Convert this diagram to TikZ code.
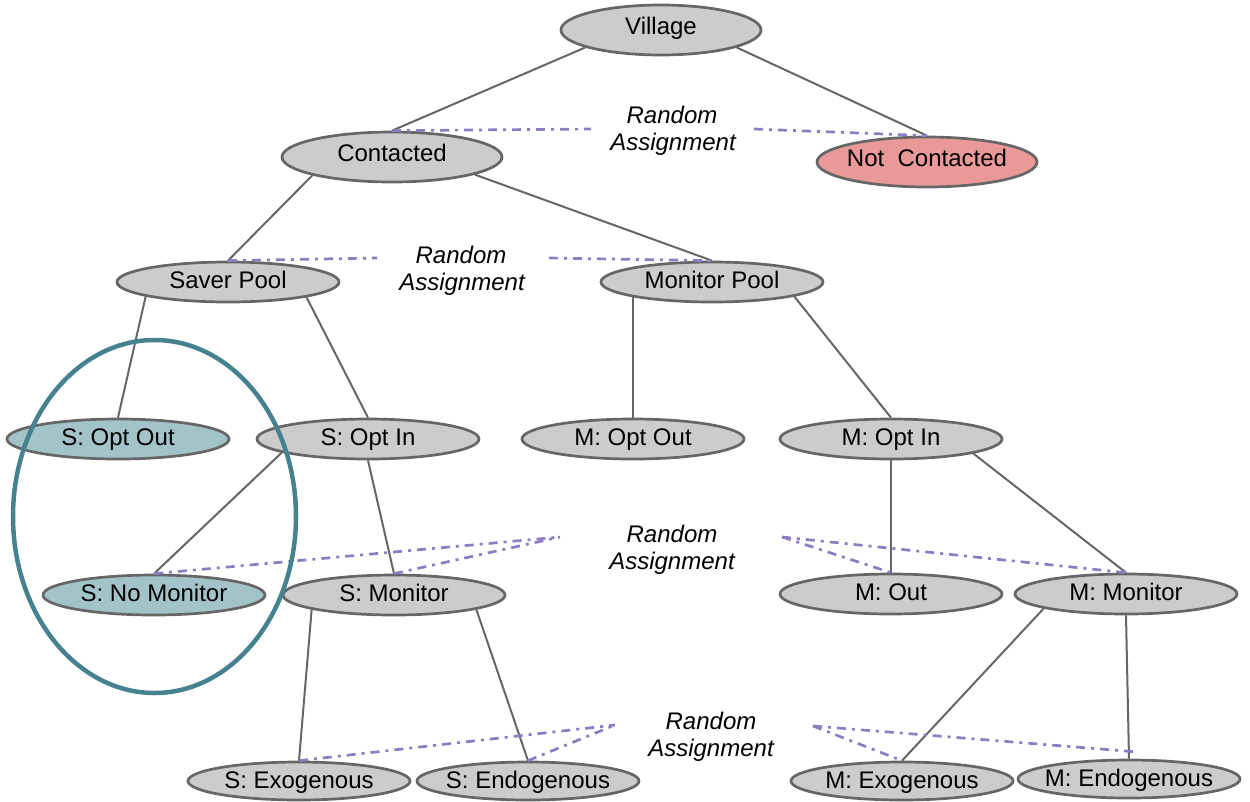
\documentclass[tikz,border=0pt]{standalone}
\usepackage{fontspec}
\setmainfont{Liberation Sans}
\usetikzlibrary{shapes.geometric}
\definecolor{nodegray}{HTML}{CCCCCC}
\definecolor{edgegray}{HTML}{666666}
\definecolor{tealfill}{HTML}{A2C4C9}
\definecolor{tealline}{HTML}{45818E}
\definecolor{redfill}{HTML}{EA9999}
\definecolor{purp}{HTML}{8E7CC3}
\begin{document}
\begin{tikzpicture}[x=1pt,y=-1pt,
  box/.style={ellipse, draw=edgegray, line width=2.7pt, fill=nodegray,
    minimum width=222pt, minimum height=40pt, inner xsep=-20pt, inner ysep=0pt,
    text height=17.2pt, text depth=4pt, font=\fontsize{24}{27}\selectfont},
  topbox/.style={box, minimum height=50pt, text depth=8pt},
  lowbox/.style={box, minimum height=38pt, text depth=3pt},
  conn/.style={draw=edgegray, line width=2pt},
  rand/.style={draw=purp, line width=2.7pt, dash pattern=on 9pt off 6pt on 3pt off 6pt},
  lab/.style={font=\fontsize{24}{27}\selectfont\itshape, anchor=base, inner sep=0pt},
  groupring/.style={draw=tealline, line width=4.5pt, ellipse, inner sep=0pt}]
\useasboundingbox (0,0) rectangle (1250,801);

% nodes
\node[topbox, minimum width=200pt] (village) at (661,30) {Village};
\node[topbox, minimum width=220pt] (contacted) at (392,157) {Contacted};
\node[topbox, fill=redfill, minimum width=220pt] (notc) at (927,162) {Not\ \ Contacted};
\node[box] (saver) at (228,282) {Saver Pool};
\node[box] (monpool) at (712,282) {Monitor Pool};
\node[box, fill=tealfill] (soptout) at (118,439) {S: Opt Out};
\node[box] (soptin) at (368,439) {S: Opt In};
\node[box] (moptout) at (633,439) {M: Opt Out};
\node[box] (moptin) at (891,439) {M: Opt In};
\node[box, fill=tealfill] (snomon) at (154,595) {S: No Monitor};
\node[box] (smon) at (394,595) {S: Monitor};
\node[box] (mout) at (891,594) {M: Out};
\node[box] (mmon) at (1126,594) {M: Monitor};
\node[lowbox] (sexo) at (299,781) {S: Exogenous};
\node[lowbox] (sendo) at (528,781) {S: Endogenous};
\node[lowbox] (mexo) at (902,781) {M: Exogenous};
\node[lowbox] (mendo) at (1129,779) {M: Endogenous};

% tree connectors
\draw[conn] (village.193) -- (contacted.north);
\draw[conn] (village.347) -- (notc.north);
\draw[conn] (contacted.193) -- (saver.north);
\draw[conn] (contacted.348) -- (monpool.north);
\draw[conn] (saver.190) -- (soptout.north);
\draw[conn] (saver.349) -- (soptin.north);
\draw[conn] (monpool.191 -| moptout.north) -- (moptout.north);
\draw[conn] (monpool.350) -- (moptin.north);
\draw[conn] (soptin.189) -- (snomon.north);
\draw[conn] (soptin.south) -- (smon.north);
\draw[conn] (moptin.south) -- (mout.north);
\draw[conn] (moptin.350) -- (mmon.north);
\draw[conn] (smon.190) -- (sexo.north);
\draw[conn] (smon.350) -- (sendo.north);
\draw[conn] (mmon.190) -- (mexo.north);
\draw[conn] (mmon.south) -- (mendo.north);

% random assignment labels
\node[lab] (ra1) at (672,123.6) {Random};
\node[lab] (rb1) at (673,150.5) {Assignment};
\node[lab] (ra2) at (461,263.5) {Random};
\node[lab] (rb2) at (462,290.5) {Assignment};
\node[lab] (ra3) at (672,542.6) {Random};
\node[lab] (rb3) at (672,569.6) {Assignment};
\node[lab] (ra4) at (711,729.6) {Random};
\node[lab] (rb4) at (711,756.6) {Assignment};

% random assignment dash-dot lines
\coordinate (r1l) at (591,129);
\coordinate (r1r) at (754,129);
\coordinate (r2l) at (377,258);
\coordinate (r2r) at (549,258);
\coordinate (r3l) at (560,537);
\coordinate (r3r) at (782,537);
\coordinate (r4l) at (615,725);
\coordinate (r4r) at (813,726);
\coordinate (r4e) at (1138,752);
\draw[rand] (contacted.north) -- (r1l);
\draw[rand] (r1r) -- (notc.north);
\draw[rand] (saver.north) -- (r2l);
\draw[rand] (r2r) -- (monpool.north);
\draw[rand] (snomon.north) -- (r3l);
\draw[rand] (smon.north) -- (r3l);
\draw[rand] (r3r) -- (mout.north);
\draw[rand] (r3r) -- (mmon.north);
\draw[rand] (sexo.north) -- (r4l);
\draw[rand] (sendo.north) -- (r4l);
\draw[rand] (r4r) -- (mexo.north);
\draw[rand] (r4r) -- (r4e);

% highlight ring
\node[groupring, minimum width=283pt, minimum height=353pt] (ring) at (154.5,516.5) {};
\end{tikzpicture}
\end{document}
